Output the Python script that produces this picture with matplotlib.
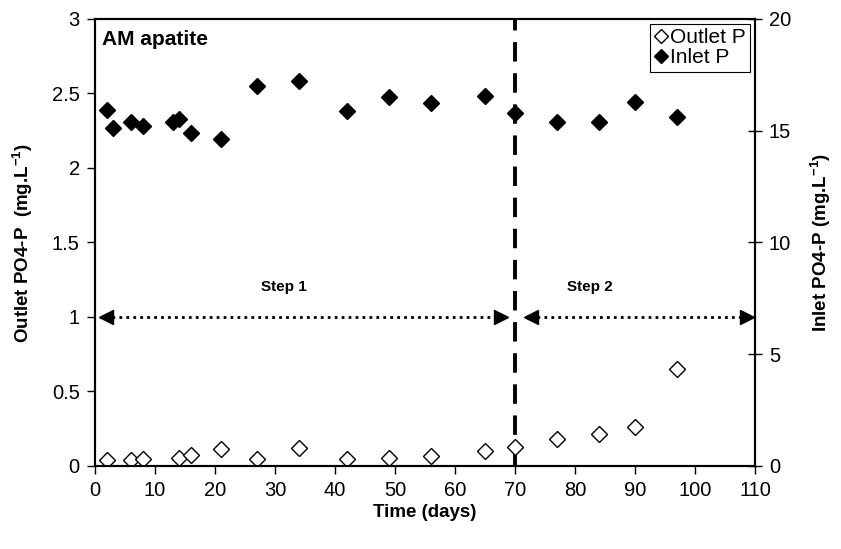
import matplotlib.pyplot as plt
from matplotlib.ticker import FormatStrFormatter

plt.rcParams['font.family'] = ['Liberation Sans', 'DejaVu Sans']
plt.rcParams['mathtext.fontset'] = 'custom'
plt.rcParams['mathtext.rm'] = 'Liberation Sans'
plt.rcParams['mathtext.bf'] = 'Liberation Sans:bold'

# =======================
# DATA
# =======================
outlet_days = [2, 6, 8, 14, 16, 21, 27, 34, 42, 49, 56, 65, 70, 77, 84, 90, 97]
outlet_p = [0.04, 0.04, 0.045, 0.056, 0.074, 0.112, 0.045, 0.119, 0.045, 0.056,
            0.067, 0.10, 0.125, 0.179, 0.215, 0.264, 0.649]

inlet_days = [2, 3, 6, 8, 13, 14, 16, 21, 27, 34, 42, 49, 56, 65, 70, 77, 84, 90, 97]
inlet_p = [15.93, 15.11, 15.41, 15.23, 15.41, 15.51, 14.89, 14.62, 17.01, 17.23,
           15.90, 16.53, 16.23, 16.55, 15.78, 15.41, 15.41, 16.30, 15.60]

step_change_day = 70
step1_span = (1.8, 67.6)
step2_span = (72.6, 108.7)
arrow_level = 1.0
step_labels = ["Step 1", "Step 2"]
step_label_pos = [(31.5, 1.2), (82.5, 1.2)]

# =======================
# PLOTTING
# =======================
fig = plt.figure(figsize=(8.41, 5.49), dpi=100)
ax = fig.add_axes([0.113, 0.1512, 0.7848, 0.8142])
ax2 = ax.twinx()

ax.plot(outlet_days, outlet_p, linestyle='none', marker='D', markersize=8,
        markerfacecolor='white', markeredgecolor='black', markeredgewidth=1,
        label='Outlet P', zorder=3)
ax2.plot(inlet_days, inlet_p, linestyle='none', marker='D', markersize=8,
         markerfacecolor='black', markeredgecolor='black', label='Inlet P', zorder=3)

# step separator
ax.axvline(step_change_day, color='black', lw=2.8, dashes=(5, 3), zorder=2)

# step arrows
for (x0, x1), (tx, ty), lab in zip([step1_span, step2_span], step_label_pos, step_labels):
    ax.plot([x0 + 1, x1 - 1], [arrow_level, arrow_level], color='black', lw=2,
            dashes=(1, 1.5), zorder=2)
    ax.plot([x0], [arrow_level], marker='<', color='black', markersize=10, zorder=2)
    ax.plot([x1], [arrow_level], marker='>', color='black', markersize=10, zorder=2)
    ax.text(tx, ty, lab, ha='center', va='center', fontsize=11, fontweight='bold')

ax.set_xlim(0, 110)
ax.set_ylim(0, 3)
ax2.set_ylim(0, 20)
ax.set_xticks(range(0, 111, 10))
ax.set_yticks([0, 0.5, 1, 1.5, 2, 2.5, 3])
ax.yaxis.set_major_formatter(FormatStrFormatter('%g'))
ax2.set_yticks([0, 5, 10, 15, 20])

for a in (ax, ax2):
    for s in a.spines.values():
        s.set_linewidth(1.5)
ax.tick_params(axis='both', direction='out', length=6, width=1, labelsize=14.5, pad=5)
ax2.tick_params(axis='y', direction='inout', length=10, width=1, labelsize=14.5, pad=5)

ax.set_xlabel('Time (days)', fontsize=13.5, fontweight='bold', labelpad=3)
ax.set_ylabel('Outlet PO4-P  (mg.L$^{\\mathbf{-1}}$)', fontsize=13.5, fontweight='bold', labelpad=12)
ax2.set_ylabel('Inlet PO4-P (mg.L$^{\\mathbf{-1}}$)', fontsize=13.5, fontweight='bold', labelpad=12)

ax.text(0.01, 0.975, 'AM apatite', transform=ax.transAxes, ha='left', va='top',
        fontsize=15, fontweight='bold')

h1, l1 = ax.get_legend_handles_labels()
h2, l2 = ax2.get_legend_handles_labels()
leg = ax2.legend(h1 + h2, l1 + l2, loc='upper right', fontsize=15, frameon=True,
                 fancybox=False, framealpha=1, edgecolor='black', handlelength=0.6,
                 handletextpad=0.15, borderpad=0.2, labelspacing=0.05,
                 borderaxespad=0.25, markerscale=0.85)
leg.get_frame().set_linewidth(0.8)

fig.savefig('out.png', dpi=100)
